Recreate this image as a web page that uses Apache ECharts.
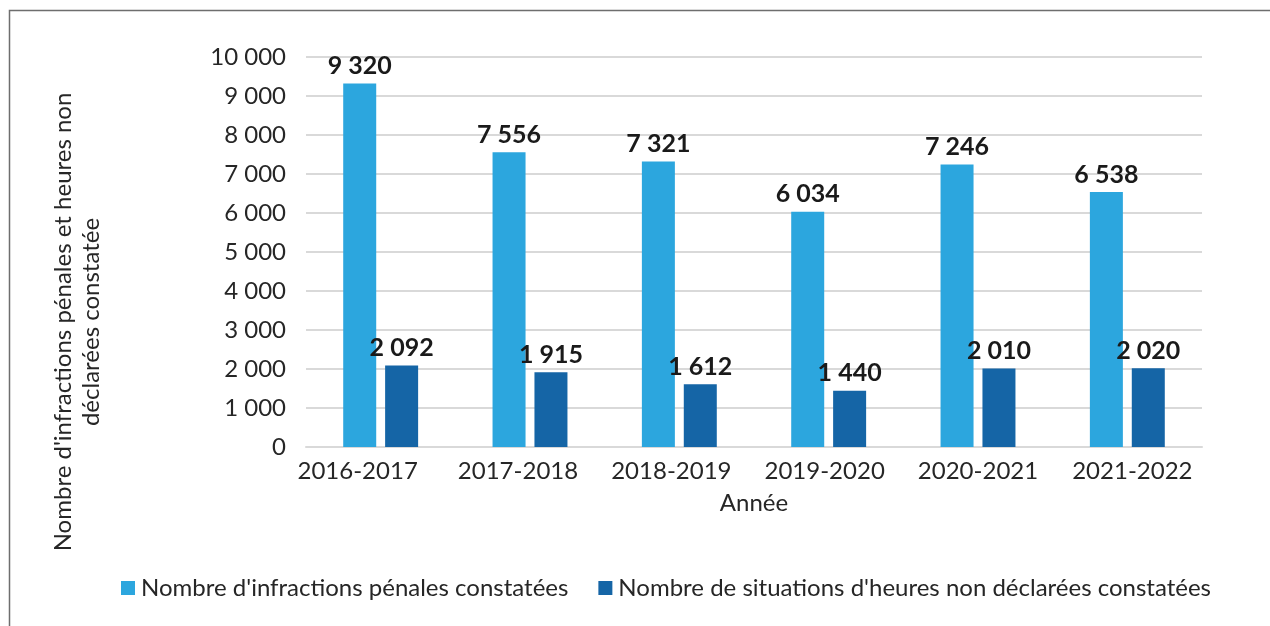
<!DOCTYPE html>
<html>
<head>
<meta charset="utf-8">
<script src="https://cdn.jsdelivr.net/npm/echarts@6/dist/echarts.min.js"></script>
<style>
  html, body { margin: 0; padding: 0; background: #fff; }
  #main { width: 1270px; height: 626px; }
</style>
</head>
<body>
<div id="main"></div>
<script>
// données
var annees = ['2016-2017', '2017-2018', '2018-2019', '2019-2020', '2020-2021', '2021-2022'];
var infractions = [9320, 7556, 7321, 6034, 7246, 6538];
var heuresNonDeclarees = [2092, 1915, 1612, 1440, 2010, 2020];
var nomsSeries = ["Nombre d'infractions pénales constatées", "Nombre de situations d'heures non déclarées constatées"];

var police = 'Lato, "Open Sans", sans-serif';

// format "9 320"
function espace(v) {
  return String(v).replace(/\B(?=(\d{3})+(?!\d))/g, ' ');
}

// décalage des libellés d'années comme sur l'original
var decalages = [-23, -12, -8, -4, 0, 5];
var richAnnees = {};
decalages.forEach(function (d, i) {
  richAnnees['a' + i] = {
    fontFamily: police, fontSize: 24, color: '#262626',
    padding: d < 0 ? [0, -2 * d, 0, 0] : [0, 0, 0, 2 * d]
  };
});

var chart = echarts.init(document.getElementById('main'));

var labelBarre = {
  show: true,
  position: 'top',
  distance: 5,
  color: '#1a1a1a',
  fontFamily: police,
  fontWeight: 'bold',
  fontSize: 25,
  formatter: function (p) { return espace(p.value); }
};

var option = {
  backgroundColor: '#ffffff',
  animation: false,
  color: ['#2CA6DE', '#1565A6'],
  textStyle: { fontFamily: police },
  graphic: [{
    type: 'rect',
    shape: { x: 9.5, y: 10.5, width: 1300, height: 700 },
    style: { fill: 'none', stroke: '#6e6e6e', lineWidth: 1.5 },
    silent: true
  }],
  grid: { left: 306, right: 68, top: 57, bottom: 179, outerBoundsMode: 'none', containLabel: false },
  legend: {
    left: 116,
    top: 571,
    itemWidth: 14,
    itemHeight: 14,
    itemGap: 30,
    icon: 'rect',
    textStyle: { fontFamily: police, fontSize: 24, color: '#262626', padding: [0, 0, 0, 1] },
    data: nomsSeries
  },
  xAxis: {
    type: 'category',
    data: annees,
    name: 'Année',
    nameLocation: 'middle',
    nameGap: 44,
    nameTextStyle: { fontFamily: police, fontSize: 24, color: '#262626' },
    axisLine: { show: true, lineStyle: { color: '#d9d9d9', width: 2 } },
    axisTick: { show: false },
    axisLabel: {
      interval: 0,
      hideOverlap: false,
      fontFamily: police, fontSize: 24, color: '#262626', margin: 12,
      formatter: function (v, i) { return '{a' + i + '|' + v + '}'; },
      rich: richAnnees
    }
  },
  yAxis: {
    type: 'value',
    min: 0,
    max: 10000,
    interval: 1000,
    name: "Nombre d'infractions pénales et heures non\ndéclarées constatée",
    nameLocation: 'middle',
    nameGap: 201,
    nameRotate: 90,
    nameTextStyle: { fontFamily: police, fontSize: 24, color: '#262626', lineHeight: 28, padding: [0, 140, 0, 0] },
    axisLine: { show: false },
    axisTick: { show: false },
    splitLine: { lineStyle: { color: '#d9d9d9', width: 2 } },
    axisLabel: {
      fontFamily: police, fontSize: 24, color: '#262626', margin: 20,
      formatter: function (v) { return espace(v); }
    }
  },
  series: [{
    name: nomsSeries[0],
    type: 'bar',
    data: infractions,
    barWidth: 33,
    barGap: '27%',
    label: labelBarre
  }, {
    name: nomsSeries[1],
    type: 'bar',
    data: heuresNonDeclarees,
    barWidth: 33,
    label: labelBarre
  }]
};

chart.setOption(option);
</script>
</body>
</html>
